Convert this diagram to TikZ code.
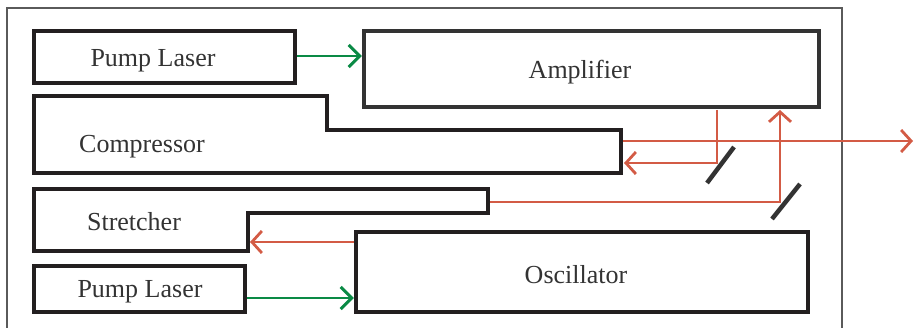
\documentclass[tikz,border=0pt]{standalone}
\usepackage{fontspec}
\setmainfont{Liberation Serif}
\usetikzlibrary{arrows.meta}
\definecolor{boxblack}{HTML}{231F20}
\definecolor{ampgray}{HTML}{333333}
\definecolor{redbeam}{HTML}{D35B45}
\definecolor{greenbeam}{HTML}{0A8A45}
\definecolor{txt}{HTML}{333333}
\definecolor{framegray}{HTML}{5A5A5A}
\begin{document}
\begin{tikzpicture}[x=1pt,y=-1pt,
  box/.style={draw=boxblack, line width=4.5pt, rectangle, inner sep=0pt},
  lbl/.style={text=txt, font=\fontsize{26}{30}\selectfont, inner sep=0pt, anchor=base},
  redarrow/.style={draw=redbeam, line width=1.8pt, -{Straight Barb[length=10pt,width=22pt,line width=2.8pt]}},
  greenarrow/.style={draw=greenbeam, line width=2pt, -{Straight Barb[length=11pt,width=22pt,line width=3pt]}},
  mirror/.style={draw=ampgray, line width=4.5pt}]
\useasboundingbox (0,0) rectangle (915,328);
\draw[framegray, line width=1.1pt] (7,328) -- (7,8) -- (842,8) -- (842,328);
% boxes
\node[box, minimum width=261pt, minimum height=52pt] (pumptop) at (164.5,57) {};
\node[box, draw=ampgray, minimum width=455pt, minimum height=76pt] (amp) at (591.5,69) {};
\node[box, minimum width=452pt, minimum height=80pt] (osc) at (582,272) {};
\node[box, minimum width=211pt, minimum height=46pt] (pumpbot) at (139.5,289) {};
% compressor and stretcher outlines
\draw[draw=boxblack, line width=4.5pt] (34,96) -- (327,96) -- (327,130) -- (621,130) -- (621,173) -- (34,173) -- cycle;
\draw[draw=boxblack, line width=4.5pt] (34,189) -- (488,189) -- (488,213) -- (248,213) -- (248,251) -- (34,251) -- cycle;
% labels
\node[lbl] (lpumptop) at (153,67) {Pump Laser};
\node[lbl] (lamp) at (580,79) {Amplifier};
\node[lbl] (lcomp) at (142,153) {Compressor};
\node[lbl] (lstr) at (134,231) {Stretcher};
\node[lbl] (lpumpbot) at (140,298) {Pump Laser};
\node[lbl] (losc) at (576,284) {Oscillator};
% beam coordinates
\coordinate (strIn) at (250,242);
\coordinate (strOut) at (490,202);
\coordinate (m2) at (780,202);
\coordinate (ampIn) at (780,110);
\coordinate (ampOut) at (717,110);
\coordinate (m1) at (717,163);
\coordinate (compIn) at (624,163);
\coordinate (compOut) at (623,141);
\coordinate (outEnd) at (913,141);
% green pump beams
\draw[greenarrow] (pumptop.east |- 0,56) -- (amp.west |- 0,56);
\draw[greenarrow] (pumpbot.east |- 0,298) -- (osc.west |- 0,298);
% red beams
\draw[redarrow] (osc.west |- strIn) -- (strIn);
\draw[redarrow] (strOut) -- (m2) -- (ampIn);
\draw[redarrow] (ampOut) -- (m1) -- (compIn);
\draw[redarrow] (compOut) -- (outEnd);
% mirrors
\draw[mirror] (707,183) -- (734,147);
\draw[mirror] (772,219) -- (800,184);
\end{tikzpicture}
\end{document}
